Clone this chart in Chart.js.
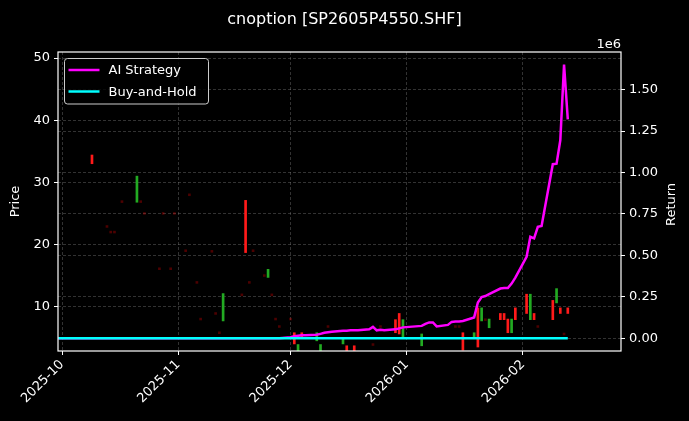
<!DOCTYPE html>
<html>
<head>
<meta charset="utf-8">
<script src="https://cdn.jsdelivr.net/npm/chart.js@4.4.0/dist/chart.umd.min.js"></script>
<style>
  html, body { margin: 0; padding: 0; background: #000; }
</style>
</head>
<body>
<canvas id="optionChart" width="689" height="421"></canvas>
<script>
const chartTitle = 'cnoption [SP2605P4550.SHF]';

// daily candles (only days that show a body on the picture)
const candleDates = [
    '2025-10-09', '2025-10-13', '2025-10-14', '2025-10-15', '2025-10-17', '2025-10-21', '2025-10-22', '2025-10-23',
    '2025-10-27', '2025-10-28', '2025-10-30', '2025-10-31', '2025-11-03', '2025-11-04', '2025-11-06', '2025-11-07',
    '2025-11-10', '2025-11-11', '2025-11-12', '2025-11-13', '2025-11-18', '2025-11-19', '2025-11-20', '2025-11-21',
    '2025-11-24', '2025-11-25', '2025-11-26', '2025-11-27', '2025-11-28', '2025-12-01', '2025-12-02', '2025-12-03',
    '2025-12-04', '2025-12-08', '2025-12-09', '2025-12-11', '2025-12-15', '2025-12-16', '2025-12-18', '2025-12-23',
    '2025-12-25', '2025-12-29', '2025-12-30', '2025-12-31', '2026-01-05', '2026-01-14', '2026-01-15', '2026-01-16',
    '2026-01-19', '2026-01-20', '2026-01-21', '2026-01-22', '2026-01-23', '2026-01-26', '2026-01-27', '2026-01-28',
    '2026-01-29', '2026-01-30', '2026-02-02', '2026-02-03', '2026-02-04', '2026-02-05', '2026-02-09', '2026-02-10',
    '2026-02-11', '2026-02-12', '2026-02-13',
];
const candleOpen = [
    33.0, 22.9, 22.0, 22.0, 26.9, 31.0, 26.9, 25.0,
    16.1, 25.0, 16.1, 25.0, 19.0, 28.0, 13.9, 8.0,
    18.9, 8.9, 5.8, 12.1, 11.9, 18.7, 13.9, 19.0,
    15.0, 16.0, 11.9, 8.0, 6.8, 8.0, 4.0, 3.9,
    5.0, 5.8, 3.9, 6.8, 5.0, 2.9, 2.9, 3.9,
    6.8, 5.8, 5.6, 7.9, 5.6, 6.8, 6.8, 3.0,
    5.8, 3.5, 9.8, 7.9, 8.0, 7.9, 7.9, 5.8,
    8.0, 7.9, 8.9, 12.0, 7.9, 6.8, 7.9, 12.9,
    8.9, 5.6, 8.9,
];
const candleClose = [
    34.4, 22.9, 22.0, 22.0, 26.9, 26.8, 26.9, 25.0,
    16.1, 25.0, 16.1, 25.0, 19.0, 28.0, 13.9, 8.0,
    18.9, 8.9, 5.8, 7.7, 11.9, 27.1, 13.9, 19.0,
    15.0, 14.7, 11.9, 8.0, 6.8, 8.0, 5.8, 2.9,
    5.8, 4.5, 2.9, 6.8, 4.0, 3.7, 3.7, 3.9,
    6.8, 7.9, 8.9, 5.0, 3.7, 6.8, 6.8, 5.8,
    5.0, 9.8, 7.7, 7.9, 6.6, 8.9, 8.9, 8.0,
    5.8, 9.8, 12.0, 7.9, 8.9, 6.8, 11.0, 10.6,
    9.8, 5.6, 9.8,
];

// equity curves, one value per trading day
const curveDates = [
    '2025-09-30',
    '2025-10-09', '2025-10-10', '2025-10-13', '2025-10-14', '2025-10-15', '2025-10-16', '2025-10-17',
    '2025-10-20', '2025-10-21', '2025-10-22', '2025-10-23', '2025-10-24', '2025-10-27', '2025-10-28',
    '2025-10-29', '2025-10-30', '2025-10-31',
    '2025-11-03', '2025-11-04', '2025-11-05', '2025-11-06', '2025-11-07', '2025-11-10', '2025-11-11',
    '2025-11-12', '2025-11-13', '2025-11-14', '2025-11-17', '2025-11-18', '2025-11-19', '2025-11-20',
    '2025-11-21', '2025-11-24', '2025-11-25', '2025-11-26', '2025-11-27', '2025-11-28',
    '2025-12-01', '2025-12-02', '2025-12-03', '2025-12-04', '2025-12-05', '2025-12-08', '2025-12-09',
    '2025-12-10', '2025-12-11', '2025-12-12', '2025-12-15', '2025-12-16', '2025-12-17', '2025-12-18',
    '2025-12-19', '2025-12-22', '2025-12-23', '2025-12-24', '2025-12-25', '2025-12-26', '2025-12-29',
    '2025-12-30', '2025-12-31',
    '2026-01-05', '2026-01-06', '2026-01-07', '2026-01-08', '2026-01-09', '2026-01-12', '2026-01-13',
    '2026-01-14', '2026-01-15', '2026-01-16', '2026-01-19', '2026-01-20', '2026-01-21', '2026-01-22',
    '2026-01-23', '2026-01-26', '2026-01-27', '2026-01-28', '2026-01-29', '2026-01-30',
    '2026-02-02', '2026-02-03', '2026-02-04', '2026-02-05', '2026-02-06', '2026-02-09', '2026-02-10',
    '2026-02-11', '2026-02-12', '2026-02-13',
];
const aiStrategy = [
    0,
    0, 0, 0, 0, 0, 0, 0,
    0, 0, 0, 0, 0, 0, 0,
    0, 0, 0,
    0, 0, 0, 0, 0, 0, 0,
    0, 0, 0, 0, 0, 0, 0,
    0, 0, 0, 0, 0, 0,
    6000, 12000, 15000, 18000, 18000, 21000, 27000,
    33000, 36000, 39000, 45000, 45000, 48000, 48000,
    48000, 54000, 69000, 48000, 51000, 48000, 54000,
    60000, 66000,
    75000, 87000, 96000, 96000, 72000, 81000, 99000,
    102000, 102000, 105000, 126000, 216000, 249000, 255000,
    267000, 300000, 303000, 303000, 330000, 366000,
    492000, 612000, 603000, 672000, 678000, 1050000, 1053000,
    1194000, 1650000, 1320000,
];
const buyAndHold = curveDates.map(() => 0);

const legendOrder = ['AI Strategy', 'Buy-and-Hold'];
const monthTicks = ['2025-10', '2025-11', '2025-12', '2026-01', '2026-02'];
const priceTicks = [10, 20, 30, 40, 50];
const returnTicks = [0, 250000, 500000, 750000, 1000000, 1250000, 1500000];

const dayIndex = (s) => {
    const [y, m, d] = s.split('-').map(Number);
    return (Date.UTC(y, m - 1, d || 1) - Date.UTC(2025, 9, 1)) / 86400000;
};

const isFlat = (i) => Math.abs(candleOpen[i] - candleClose[i]) < 0.2;

const candleBars = candleDates.map((d, i) => {
    const lo = Math.min(candleOpen[i], candleClose[i]);
    const hi = Math.max(candleOpen[i], candleClose[i]);
    return { x: dayIndex(d), y: isFlat(i) ? [lo - 0.15, hi + 0.15] : [lo, hi] };
});

const gridColor = 'rgba(140, 140, 140, 0.45)';
const fontFamily = 'DejaVu Sans';

const frameAndText = {
    id: 'frameAndText',
    afterDatasetsDraw(chart) {
        const { ctx, chartArea } = chart;
        const { left, top, right, bottom } = chartArea;
        ctx.save();
        // spines
        ctx.strokeStyle = '#ffffff';
        ctx.lineWidth = 1.2;
        ctx.strokeRect(left, top, right - left, bottom - top);

        // legend
        const bx = left + 6.5, by = top + 6.5, bw = 144, bh = 45.5;
        ctx.beginPath();
        ctx.roundRect(bx, by, bw, bh, 3);
        ctx.fillStyle = 'rgba(0, 0, 0, 0.8)';
        ctx.fill();
        ctx.strokeStyle = '#cccccc';
        ctx.lineWidth = 1;
        ctx.stroke();
        ctx.font = '13px "' + fontFamily + '"';
        ctx.textBaseline = 'middle';
        ctx.textAlign = 'left';
        legendOrder.forEach((name, i) => {
            const ds = chart.data.datasets.find((d) => d.label === name);
            const ly = by + 11.5 + i * 21.5;
            ctx.strokeStyle = ds.borderColor;
            ctx.lineWidth = 2.5;
            ctx.beginPath();
            ctx.moveTo(bx + 4, ly);
            ctx.lineTo(bx + 35, ly);
            ctx.stroke();
            ctx.fillStyle = '#ffffff';
            ctx.fillText(ds.label, bx + 44, ly + 1);
        });

        // title and offset text
        ctx.fillStyle = '#ffffff';
        ctx.textAlign = 'center';
        ctx.textBaseline = 'alphabetic';
        ctx.font = '16px "' + fontFamily + '"';
        ctx.fillText(chartTitle, chart.width / 2, 24);
        ctx.textAlign = 'right';
        ctx.font = '13px "' + fontFamily + '"';
        ctx.fillText('1e6', right, top - 4);

        // right axis title, reading bottom to top
        ctx.translate(chart.width - 17, (top + bottom) / 2 + 3);
        ctx.rotate(-Math.PI / 2);
        ctx.textAlign = 'center';
        ctx.textBaseline = 'middle';
        ctx.fillText('Return', 0, 0);
        ctx.restore();
    },
};

Chart.defaults.font.family = fontFamily;
Chart.defaults.font.size = 13;
Chart.defaults.color = '#ffffff';

const ctxOption = document.getElementById('optionChart').getContext('2d');
const optionChart = new Chart(ctxOption, {
    type: 'bar',
    data: {
        datasets: [
            {
                type: 'line',
                label: 'Buy-and-Hold',
                data: curveDates.map((d, i) => ({ x: dayIndex(d), y: buyAndHold[i] })),
                yAxisID: 'y1',
                borderColor: '#00ffff',
                borderWidth: 2.5,
                pointRadius: 0,
                tension: 0,
                order: 1,
            },
            {
                type: 'line',
                label: 'AI Strategy',
                data: curveDates.map((d, i) => ({ x: dayIndex(d), y: aiStrategy[i] })),
                yAxisID: 'y1',
                borderColor: '#ff00ff',
                borderWidth: 2.5,
                pointRadius: 0,
                tension: 0,
                order: 2,
            },
            {
                type: 'bar',
                label: 'Price',
                data: candleBars,
                yAxisID: 'y',
                barThickness: 2,
                borderWidth: 0,
                backgroundColor: (c) => {
                    const i = c.dataIndex;
                    if (isFlat(i)) return 'rgba(255, 0, 0, 0.3)';
                    return candleClose[i] > candleOpen[i] ? '#ff1a1a' : '#22aa22';
                },
                order: 3,
            },
        ],
    },
    options: {
        responsive: false,
        animation: false,
        devicePixelRatio: 1,
        layout: {
            padding: { top: 52, left: 0, right: 0, bottom: 0 },
        },
        scales: {
            x: {
                type: 'linear',
                min: -1.07,
                max: 149.2,
                offset: false,
                afterBuildTicks: (s) => {
                    s.ticks = monthTicks.map((m) => ({ value: dayIndex(m) }));
                },
                afterFit: (s) => {
                    s.height = 70;
                },
                ticks: {
                    autoSkip: false,
                    minRotation: 45,
                    maxRotation: 45,
                    padding: 2,
                    callback: (v) => monthTicks[monthTicks.map(dayIndex).indexOf(v)],
                },
                grid: {
                    color: gridColor,
                    lineWidth: 0.8,
                    tickColor: '#ffffff',
                    tickLength: 4,
                    tickWidth: 1,
                    tickBorderDash: [],
                    offset: false,
                },
                border: { display: false, dash: [3, 2] },
            },
            y: {
                position: 'left',
                min: 2.86,
                max: 50.98,
                afterBuildTicks: (s) => {
                    s.ticks = priceTicks.map((v) => ({ value: v }));
                },
                afterFit: (s) => {
                    s.width = 58;
                },
                ticks: { padding: 4 },
                title: { display: true, text: 'Price', color: '#ffffff', padding: { top: 8, bottom: 0 } },
                grid: {
                    color: gridColor,
                    lineWidth: 0.8,
                    tickColor: '#ffffff',
                    tickLength: 4,
                    tickWidth: 1,
                    tickBorderDash: [],
                },
                border: { display: false, dash: [3, 2] },
            },
            y1: {
                position: 'right',
                min: -76500,
                max: 1726500,
                afterBuildTicks: (s) => {
                    s.ticks = returnTicks.map((v) => ({ value: v }));
                },
                afterFit: (s) => {
                    s.width = 68;
                },
                ticks: {
                    padding: 4,
                    callback: (v) => (v / 1e6).toFixed(2),
                },
                grid: {
                    color: gridColor,
                    lineWidth: 0.8,
                    tickColor: '#ffffff',
                    tickLength: 4,
                    tickWidth: 1,
                    tickBorderDash: [],
                },
                border: { display: false, dash: [3, 2] },
            },
        },
        plugins: {
            legend: { display: false },
            tooltip: { enabled: false },
        },
    },
    plugins: [frameAndText],
});
</script>
</body>
</html>
